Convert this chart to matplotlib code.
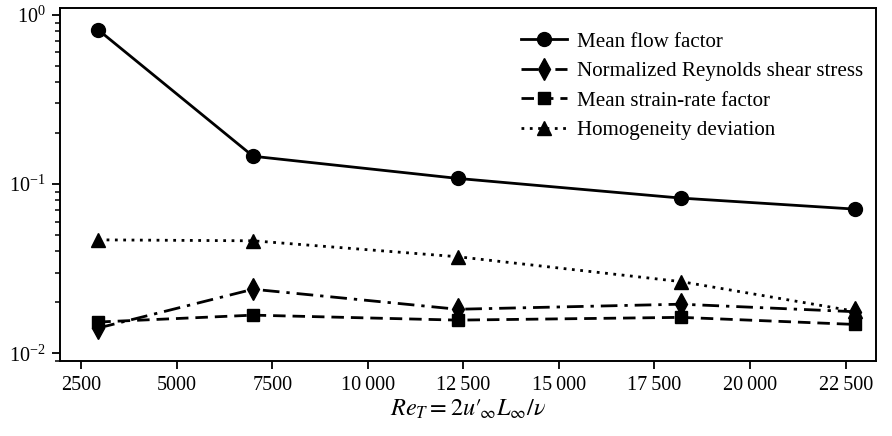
import matplotlib
matplotlib.use('Agg')
import matplotlib.pyplot as plt
from matplotlib.ticker import FuncFormatter

plt.rcParams['font.family'] = ['Liberation Serif', 'DejaVu Serif']
plt.rcParams['mathtext.fontset'] = 'stix'

# Reynolds numbers of the cases
re_t = [2950, 7000, 12350, 18200, 22750]

mean_flow = [0.815, 0.146, 0.108, 0.0826, 0.0711]
reynolds_shear = [0.0141, 0.0239, 0.0182, 0.0195, 0.0176]
strain_rate = [0.0153, 0.0168, 0.0157, 0.0163, 0.0148]
homogeneity = [0.0468, 0.0462, 0.0372, 0.0265, 0.0177]

x_ticks = [2500, 5000, 7500, 10000, 12500, 15000, 17500, 20000, 22500]


def thin_space(v, pos):
    v = int(round(v))
    if v >= 10000:
        return '{:d}\u2009{:03d}'.format(v // 1000, v % 1000)
    return str(v)


fig = plt.figure(figsize=(8.92, 4.36), dpi=100)
ax = fig.add_axes([0.0673, 0.172, 0.915, 0.81])

ax.plot(re_t, mean_flow, 'k-', marker='o', ms=10, lw=2.0, label='Mean flow factor')
ax.plot(re_t, reynolds_shear, 'k', ls=(0, (6, 2.5, 1.2, 2.5)), marker='d', ms=11, lw=2.0,
        label='Normalized Reynolds shear stress')
ax.plot(re_t, strain_rate, 'k', ls=(0, (4.5, 2.5)), marker='s', ms=9, lw=2.0,
        label='Mean strain-rate factor')
ax.plot(re_t, homogeneity, 'k', ls=(0, (1, 2)), marker='^', ms=10, lw=2.0,
        label='Homogeneity deviation')

ax.set_yscale('log')
ax.set_xlim(1950, 23300)
ax.set_ylim(0.009, 1.1)
ax.set_xticks(x_ticks)
ax.xaxis.set_major_formatter(FuncFormatter(thin_space))
ax.tick_params(labelsize=14.5, width=1.3, length=5.5, pad=5)
ax.tick_params(which='minor', width=1.1, length=3.5)
for s in ax.spines.values():
    s.set_linewidth(1.4)

ax.set_xlabel(r"$Re_T = 2u\prime_{\!\infty}L_{\infty}/\nu$", fontsize=17.5, labelpad=2)

ax.legend(loc='upper right', bbox_to_anchor=(1.007, 0.985), frameon=False,
          fontsize=15.1, handlelength=2.2, handletextpad=0.45, labelspacing=0.47)

fig.savefig('out.png', dpi=100)
